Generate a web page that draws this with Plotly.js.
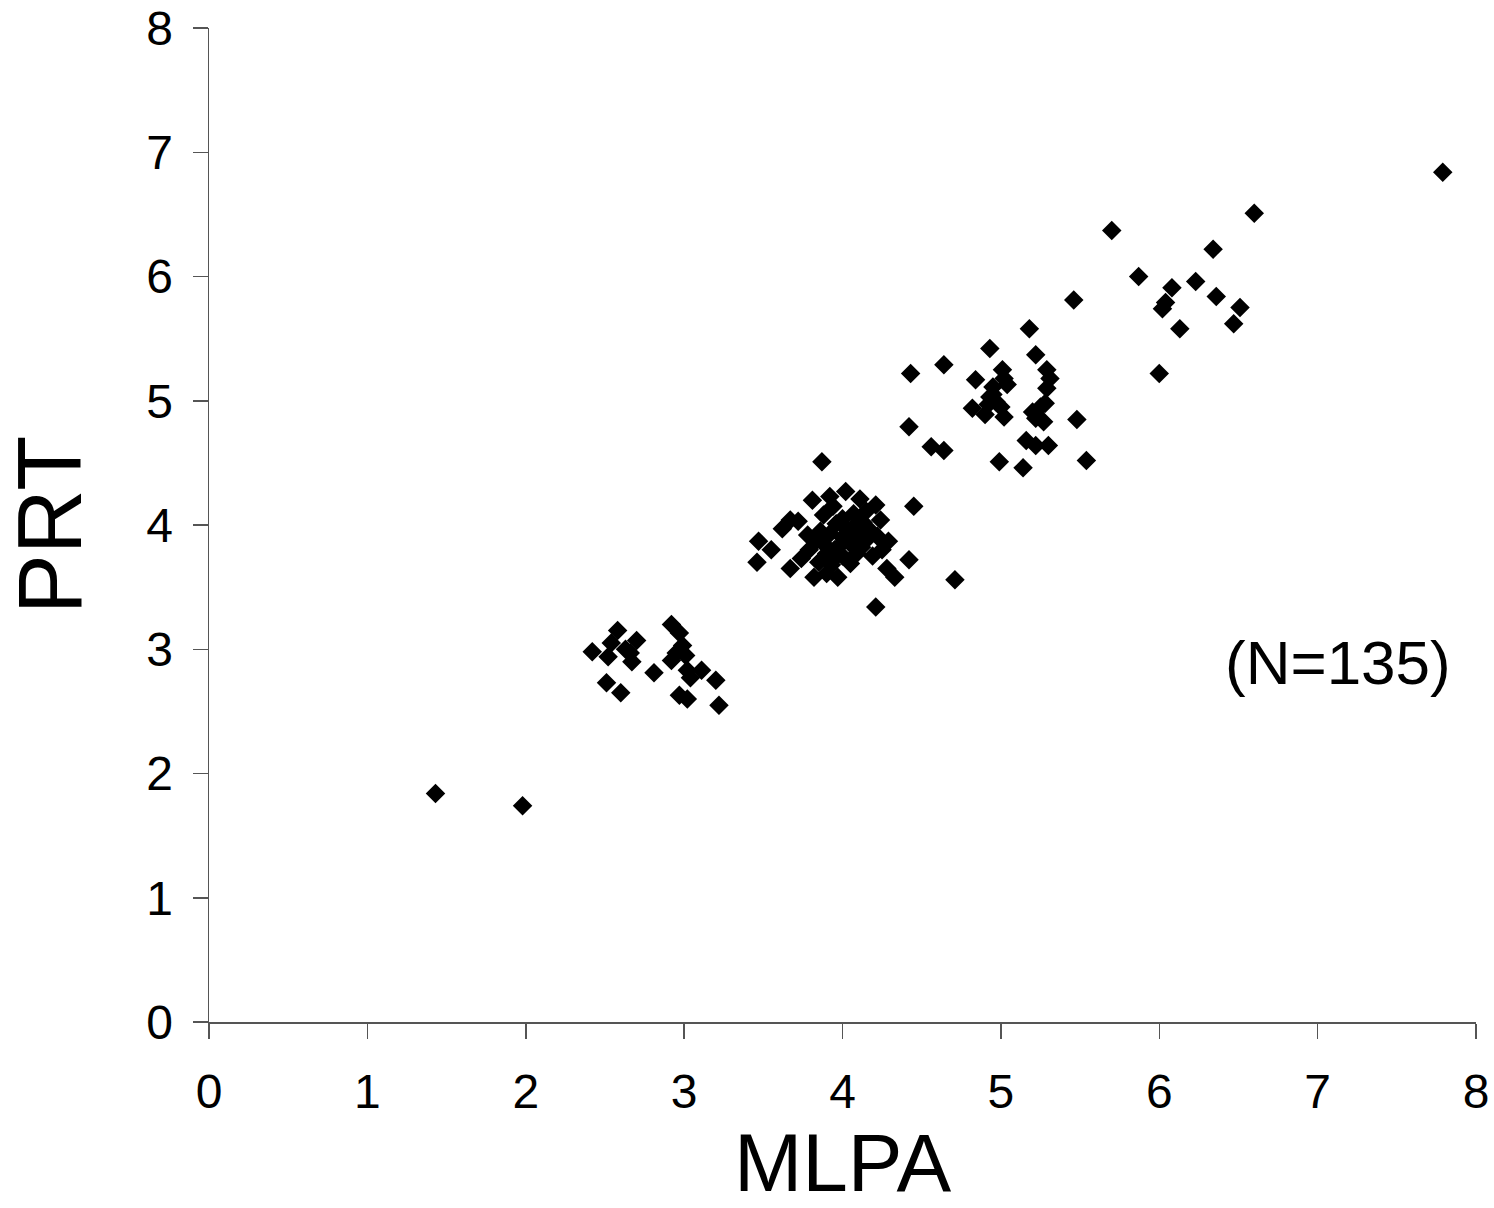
<!DOCTYPE html>
<html>
<head>
<meta charset="utf-8">
<script src="https://cdn.plot.ly/plotly-3.0.1.min.js"></script>
<style>html,body{margin:0;padding:0;background:#fff;}#chart{width:1494px;height:1208px;}</style>
</head>
<body>
<div id="chart"></div>
<script>
// MLPA (x) values
const mlpa = [
  1.43, 1.98, 7.79,
  2.58, 2.42, 2.54, 2.52, 2.70, 2.67, 2.66, 2.51, 2.60, 2.81, 2.92, 2.97, 2.99, 2.92, 3.01, 3.02, 3.04, 3.11, 3.20, 2.97, 3.02, 3.22, 2.95, 2.63,
  3.87, 4.02, 3.81, 3.92, 4.11, 4.21, 4.45, 3.94, 3.67, 3.62, 3.72, 4.07, 4.15, 4.24, 3.47, 3.55, 3.46, 3.67, 3.74, 3.82, 3.90, 3.97, 4.05, 3.84,
  3.92, 3.98, 3.90, 4.03, 3.96, 4.15, 4.22, 4.29, 4.19, 4.09, 4.28, 4.33, 4.42, 4.71, 4.21, 3.94, 3.79,
  3.86, 3.88, 4.00, 4.05, 3.95, 4.10, 4.12, 3.85, 4.00, 4.08, 3.78, 4.18, 4.00, 3.93, 4.13, 3.88, 4.25,
  5.18, 4.93, 4.64, 4.43, 5.22, 5.01, 4.84, 5.29, 5.31, 5.04, 4.95, 5.29, 4.93, 4.97, 5.28, 4.82, 4.90, 5.02, 5.20, 5.27,
  5.48, 4.42, 5.16, 5.22, 5.30, 4.56, 4.64, 4.99, 5.14, 5.54, 5.46,
  4.95, 5.00, 4.92, 5.25, 5.22, 5.02,
  6.60, 5.70, 6.34, 5.87, 6.23, 6.08, 6.36, 6.04, 6.02, 6.51, 6.47, 6.13, 6.00
];
// PRT (y) values
const prt = [
  1.84, 1.74, 6.84,
  3.15, 2.98, 3.05, 2.94, 3.07, 2.90, 2.97, 2.73, 2.65, 2.81, 3.20, 3.13, 3.03, 2.91, 2.95, 2.83, 2.77, 2.83, 2.75, 2.63, 2.60, 2.55, 2.97, 3.00,
  4.51, 4.27, 4.20, 4.23, 4.21, 4.16, 4.15, 4.15, 4.04, 3.97, 4.03, 4.09, 4.11, 4.04, 3.87, 3.80, 3.70, 3.65, 3.73, 3.58, 3.61, 3.58, 3.69, 3.88,
  3.93, 3.83, 3.77, 3.96, 4.01, 3.88, 3.91, 3.87, 3.75, 3.77, 3.65, 3.58, 3.72, 3.56, 3.34, 3.72, 3.80,
  3.95, 3.85, 3.90, 3.85, 3.80, 3.92, 3.82, 3.70, 3.75, 4.00, 3.92, 3.95, 4.05, 3.68, 4.02, 4.08, 3.80,
  5.58, 5.42, 5.29, 5.22, 5.37, 5.25, 5.17, 5.25, 5.18, 5.13, 5.11, 5.10, 5.03, 4.99, 4.98, 4.94, 4.89, 4.87, 4.91, 4.83,
  4.85, 4.79, 4.68, 4.64, 4.64, 4.63, 4.60, 4.51, 4.46, 4.52, 5.81,
  5.05, 4.95, 4.97, 4.95, 4.86, 5.18,
  6.51, 6.37, 6.22, 6.00, 5.96, 5.91, 5.84, 5.79, 5.74, 5.75, 5.62, 5.58, 5.22
];
const tickVals = [0, 1, 2, 3, 4, 5, 6, 7, 8];
const xTitle = 'MLPA';
const yTitle = 'PRT';
const noteText = '(N=135)';
const notePos = {x: 7.13, y: 2.89};

const font = 'Liberation Sans, Arial, sans-serif';

const trace = {
  x: mlpa, y: prt, type: 'scatter', mode: 'markers',
  marker: {symbol: 'diamond', size: 15, color: '#000000', line: {width: 0}},
  hoverinfo: 'x+y'
};

const axisCommon = {
  range: [0, 8], tickvals: tickVals, ticktext: tickVals.map(String),
  showgrid: false, zeroline: false, showline: true,
  linecolor: '#555555', linewidth: 1.5,
  ticks: 'outside', ticklen: 15, tickwidth: 1.5, tickcolor: '#555555',
  tickfont: {family: font, size: 48, color: '#000000'},
  fixedrange: true
};

const layout = {
  width: 1494, height: 1208,
  paper_bgcolor: '#ffffff', plot_bgcolor: '#ffffff',
  margin: {l: 209, r: 18, t: 28, b: 186},
  showlegend: false,
  xaxis: Object.assign({}, axisCommon, {
    ticklabelstandoff: 12,
    title: {text: xTitle, font: {family: font, size: 82, color: '#000000'}, standoff: 18}
  }),
  yaxis: Object.assign({}, axisCommon, {
    ticklabelstandoff: 10,
    title: {text: yTitle, font: {family: font, size: 90, color: '#000000'}, standoff: 50}
  }),
  annotations: [{
    x: notePos.x, y: notePos.y, xref: 'x', yref: 'y', text: noteText,
    showarrow: false, font: {family: font, size: 62, color: '#000000'},
    xanchor: 'center', yanchor: 'middle'
  }]
};

Plotly.newPlot('chart', [trace], layout, {displayModeBar: false, staticPlot: true});
</script>
</body>
</html>
